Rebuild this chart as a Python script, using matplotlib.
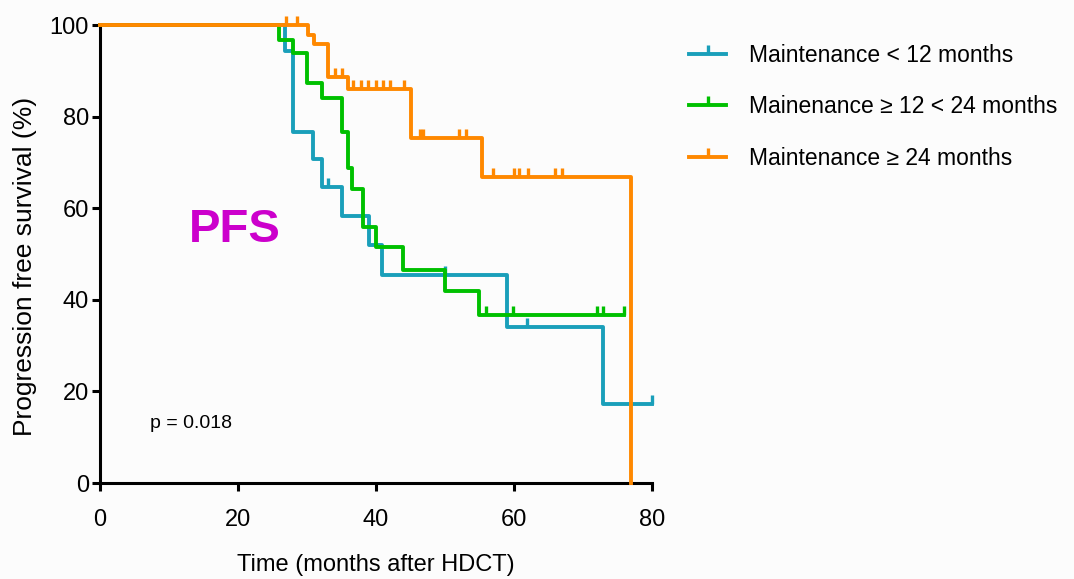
import numpy as np
import matplotlib.pyplot as plt
from matplotlib.lines import Line2D
from matplotlib.path import Path

plt.rcParams["font.family"] = ["Liberation Sans", "DejaVu Sans"]

# Kaplan-Meier step data (months, %)
blue_t = [0, 26.8, 28.0, 30.9, 32.2, 35.1, 39.0, 40.9, 59.0, 72.9, 80.0]
blue_s = [100, 94.3, 76.6, 70.7, 64.6, 58.3, 52.0, 45.4, 34.1, 17.2, 17.2]
blue_cens = [33.0, 50.0, 61.9, 80.0]

green_t = [0, 25.9, 28.0, 30.0, 32.2, 35.1, 35.9, 36.5, 38.1, 40.0, 43.9, 50.0, 54.9, 75.9]
green_s = [100, 96.7, 93.8, 87.3, 84.0, 76.7, 68.7, 64.3, 55.8, 51.5, 46.5, 41.9, 36.7, 36.7]
green_cens = [55.9, 59.9, 72.0, 72.9, 75.9]

orange_t = [0, 30.1, 31.0, 33.0, 35.9, 45.1, 55.4, 77.0]
orange_s = [100, 97.8, 95.9, 88.6, 86.0, 75.3, 66.8, 0]
orange_cens = [27.0, 28.6, 34.1, 35.1, 36.7, 37.8, 38.8, 40.0, 41.0, 42.0, 44.1,
               46.4, 46.8, 52.0, 53.0, 57.0, 60.0, 60.7, 62.0, 65.9, 67.0]

labels = ["Maintenance < 12 months",
          "Mainenance \u2265 12 < 24 months",
          "Maintenance \u2265 24 months"]
colors = ["#1a9fba", "#00c000", "#ff8800"]

# half tick pointing up
tick = Path([(0, 0), (0, 1)], [Path.MOVETO, Path.LINETO])


def surv_at(t, times, surv):
    idx = np.searchsorted(times, t, side="right") - 1
    return np.asarray(surv)[idx]


fig = plt.figure(figsize=(10.74, 5.79), dpi=100)
fig.patch.set_facecolor("#fcfcfc")
ax = fig.add_axes([0.0931, 0.1658, 0.5140, 0.7910])
ax.set_facecolor("#fcfcfc")

groups = [(blue_t, blue_s, blue_cens), (green_t, green_s, green_cens),
          (orange_t, orange_s, orange_cens)]
handles = []
for (t, s, c), col, lab in zip(groups, colors, labels):
    ax.step(t, s, where="post", color=col, lw=2.8, clip_on=False, zorder=3)
    ax.plot(c, surv_at(c, t, s), ls="none", marker=tick, ms=13, mew=2.4,
            color=col, clip_on=False, zorder=3)
    handles.append(Line2D([], [], color=col, lw=2.8, marker=tick, ms=13, mew=2.4,
                          label=lab))

ax.set_xlim(0, 80)
ax.set_ylim(0, 100)
ax.set_xticks([0, 20, 40, 60, 80])
ax.set_yticks([0, 20, 40, 60, 80, 100])
for sp in ["top", "right"]:
    ax.spines[sp].set_visible(False)
for sp in ["left", "bottom"]:
    ax.spines[sp].set_linewidth(2.2)
ax.tick_params(width=2.2, length=6, labelsize=17)
ax.tick_params(axis="x", pad=13)
ax.tick_params(axis="y", pad=2)
ax.set_xlabel("Time (months after HDCT)", fontsize=17, labelpad=16)
ax.set_ylabel("Progression free survival (%)", fontsize=19)
ax.yaxis.set_label_coords(-0.115, 0.472)

ax.text(19.6, 52.6, "PFS", color="#cc00cc", fontsize=34, fontweight="bold",
        ha="center", va="baseline")
ax.text(7.2, 12.0, "p = 0.018", fontsize=14, va="baseline")

fig.legend(handles=handles, loc="upper left", bbox_to_anchor=(0.622, 0.96),
           frameon=False, fontsize=16.5, handlelength=1.65, labelspacing=1.25,
           handletextpad=1.0)

fig.savefig("out.png", dpi=100, facecolor=fig.get_facecolor())
